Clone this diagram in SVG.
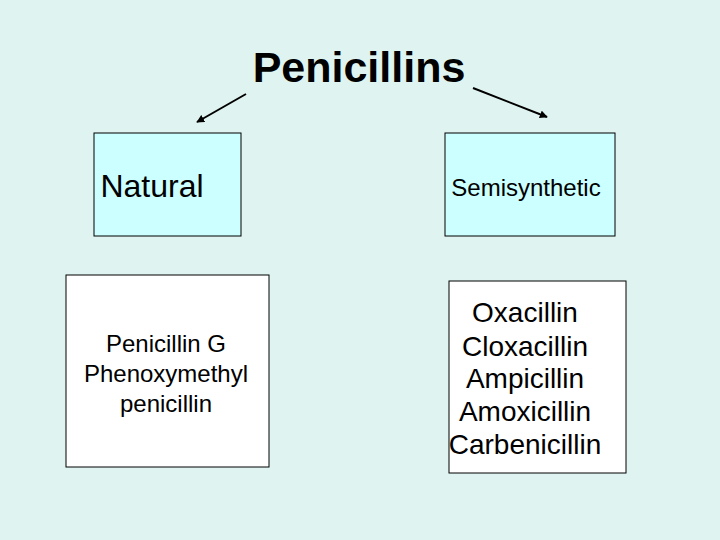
<svg xmlns="http://www.w3.org/2000/svg" width="720" height="540" viewBox="0 0 720 540">
<defs>
<style>
text{font-family:"Liberation Sans",Arial,sans-serif;fill:#000;text-anchor:middle}
.b{stroke:#000;stroke-width:1}
.c{stroke:#000;stroke-width:2;fill:none}
</style>
<marker id="a" viewBox="0 0 10 10" refX="9" refY="5" markerWidth="4" markerHeight="4" orient="auto"><path d="M0,0L10,5L0,10z" fill="#000"/></marker>
</defs>
<rect width="720" height="540" fill="#dff4f1"/>
<text x="359" y="82" font-size="43" font-weight="bold">Penicillins</text>
<g id="connectors">
<line class="c" x1="246" y1="94" x2="197" y2="122" marker-end="url(#a)"/>
<line class="c" x1="473" y1="88" x2="547" y2="117" marker-end="url(#a)"/>
</g>
<g id="natural"><rect class="b" x="94" y="133" width="147" height="103" fill="#ccffff"/><text x="152" y="197" font-size="32">Natural</text></g>
<g id="semisynthetic"><rect class="b" x="445" y="133" width="170" height="103" fill="#ccffff"/><text x="526" y="196" font-size="24">Semisynthetic</text></g>
<g id="natural-list"><rect class="b" x="66" y="275" width="203" height="192" fill="#fff"/>
<text font-size="24"><tspan x="166" y="352">Penicillin G</tspan><tspan x="166" y="382">Phenoxymethyl</tspan><tspan x="166" y="412">penicillin</tspan></text></g>
<g id="semi-list"><rect class="b" x="449" y="281" width="177" height="192" fill="#fff"/>
<text font-size="28"><tspan x="525" y="322">Oxacillin</tspan><tspan x="525" y="356">Cloxacillin</tspan><tspan x="525" y="388">Ampicillin</tspan><tspan x="525" y="421">Amoxicillin</tspan><tspan x="525" y="454">Carbenicillin</tspan></text></g>
</svg>
